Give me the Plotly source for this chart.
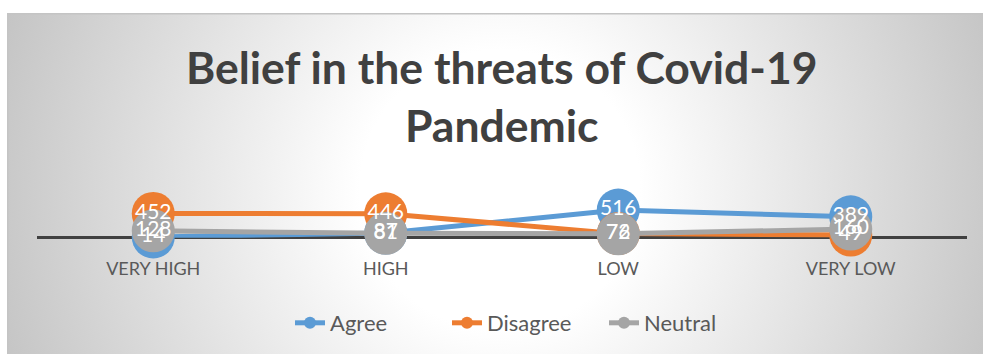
import base64
import plotly.graph_objects as go

categories = ["VERY HIGH", "HIGH", "LOW", "VERY LOW"]
agree = [14, 87, 516, 389]
disagree = [452, 446, 76, 49]
neutral = [128, 81, 72, 160]
series_names = ["Agree", "Disagree", "Neutral"]
series_colors = ["#5B9BD5", "#ED7D31", "#A5A5A5"]

W, H = 983, 354
# chart-area background (radial gradient like Excel)
BX0, BY0 = 7, 13
BW, BH = W - BX0, H - BY0
svg = (
    f'<svg xmlns="http://www.w3.org/2000/svg" width="{BW}" height="{BH}" '
    f'viewBox="0 0 {BW} {BH}" preserveAspectRatio="none">'
    '<defs><radialGradient id="g" gradientUnits="userSpaceOnUse" '
    f'cx="{500 - BX0}" cy="{190 - BY0}" r="560">'
    '<stop offset="0" stop-color="#ffffff"/>'
    '<stop offset="0.25" stop-color="#ffffff"/>'
    '<stop offset="1" stop-color="#bfbfbf"/>'
    '</radialGradient></defs>'
    f'<rect x="0" y="0" width="{BW}" height="{BH}" fill="url(#g)"/>'
    f'<line x1="0" y1="0.75" x2="{BW}" y2="0.75" stroke="#c4c4c4" stroke-width="1.5"/>'
    f'<line x1="0.75" y1="0" x2="0.75" y2="{BH}" stroke="#c4c4c4" stroke-width="1.5"/>'
    '</svg>'
)
bg_src = "data:image/svg+xml;base64," + base64.b64encode(svg.encode()).decode()

fig = go.Figure()
all_vals = [agree, disagree, neutral]
# lines + markers first
for name, vals, col in zip(series_names, all_vals, series_colors):
    fig.add_trace(go.Scatter(
        x=categories, y=vals, name=name,
        mode="lines+markers",
        line=dict(color=col, width=5),
        marker=dict(size=43, color=col),
        cliponaxis=False,
    ))
# data labels on top of every marker
for name, vals in zip(series_names, all_vals):
    fig.add_trace(go.Scatter(
        x=categories, y=vals, name=name + " labels",
        mode="text", showlegend=False,
        text=[str(v) for v in vals],
        textposition="middle center",
        textfont=dict(family="Lato", size=21, color="white"),
        cliponaxis=False, hoverinfo="skip",
    ))

plot_left, plot_right = 37, 967
plot_top, plot_bottom = 184, 237.7

fig.update_layout(
    width=W, height=H,
    margin=dict(l=0, r=0, t=0, b=0),
    paper_bgcolor="white",
    plot_bgcolor="rgba(0,0,0,0)",
    showlegend=True,
    legend=dict(
        orientation="h", x=290 / W, xanchor="left", y=1 - 323 / H, yanchor="middle",
        font=dict(family="Lato", size=22, color="#595959"),
        itemsizing="constant", bgcolor="rgba(0,0,0,0)",
        entrywidth=112, entrywidthmode="pixels",
    ),
    xaxis=dict(
        domain=[plot_left / W, plot_right / W],
        range=[-0.5, 3.5], type="category",
        showgrid=False, zeroline=False, showline=False,
        ticks="", ticklabelstandoff=18,
        tickfont=dict(family="Lato", size=18, color="#595959"),
        fixedrange=True,
    ),
    yaxis=dict(
        domain=[1 - plot_bottom / H, 1 - plot_top / H],
        range=[0, 1000], dtick=1000, tick0=0,
        showgrid=True, gridcolor="#a6a6a6", gridwidth=1.5,
        zeroline=True, zerolinecolor="#404040", zerolinewidth=3,
        showticklabels=False, showline=False, ticks="",
        fixedrange=True,
    ),
    images=[dict(
        source=bg_src, xref="paper", yref="paper",
        x=BX0 / W, y=1 - BY0 / H, sizex=BW / W, sizey=BH / H,
        xanchor="left", yanchor="top", sizing="stretch", layer="below",
    )],
    annotations=[dict(
        text="<b>Belief in the threats of Covid-19<br>Pandemic</b>",
        xref="paper", yref="paper", x=502 / W, y=1 - 96 / H,
        xanchor="center", yanchor="middle", showarrow=False,
        font=dict(family="Lato", size=44.5, color="#404040"),
    )],
)

fig.write_html("out.html")
